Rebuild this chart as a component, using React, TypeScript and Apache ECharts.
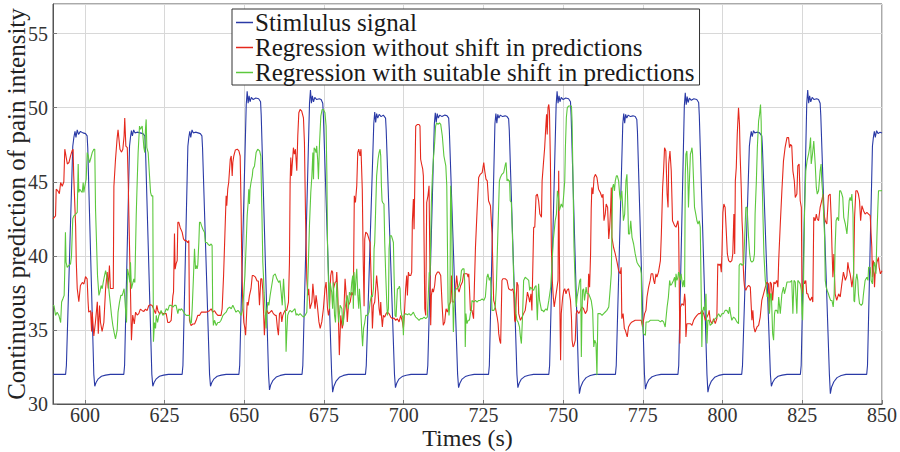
import React, { useEffect, useRef } from "react";
import * as echarts from "echarts";

const seriesNames = [
  "Stimlulus signal",
  "Regression without shift in predictions",
  "Regression with suitable shift in predictions",
];
const seriesColors = ["#2a3aa6", "#e5281c", "#5cc83d"];

// Stimulus signal (time s, value)
const stimulus: [number, number][] = [
  [590, 32.0], [593.95, 32.0], [594.2, 32.6], [596.2, 47.4], [596.55, 48.0], [596.9, 48.4], [597.2, 48.0], [597.6, 48.5], [598.0, 48.2], [598.6, 48.4], [599.4, 48.3], [600.2, 48.25], [600.7, 48.1], [600.9, 47.3], [602.8, 32.0], [603.1, 31.2], [603.5, 31.45], [604.2, 31.7], [605.2, 31.87], [606.5, 31.95], [608.0, 32.0],
  [612.2, 32.0], [612.45, 32.6], [614.0, 47.4], [614.3, 48.0], [614.6, 48.45], [614.9, 48.1], [615.3, 48.5], [615.7, 48.3], [616.4, 48.35], [617.3, 48.3], [618.2, 48.25], [618.8, 48.1], [619.0, 47.3], [621.0, 32.0], [621.3, 31.2], [621.7, 31.45], [622.4, 31.7], [623.4, 31.87], [624.7, 31.95], [626.2, 32.0],
  [630.5, 32.0], [630.75, 32.6], [632.3, 47.4], [632.6, 48.0], [632.9, 48.4], [633.2, 48.0], [633.6, 48.5], [634.0, 48.3], [634.7, 48.35], [635.5, 48.3], [636.2, 48.25], [636.7, 48.1], [636.9, 47.3], [639.1, 32.0], [639.4, 31.2], [639.8, 31.45], [640.5, 31.7], [641.5, 31.87], [642.8, 31.95], [644.3, 32.0],
  [648.3, 32.0], [648.55, 32.6], [650.6, 50.2], [650.9, 51.1], [651.2, 50.3], [651.5, 50.8], [651.8, 50.4], [652.2, 50.7], [652.8, 50.55], [653.6, 50.65], [654.5, 50.6], [655.1, 50.4], [655.3, 49.5], [657.6, 32.0], [657.9, 30.95], [658.3, 31.3], [659.0, 31.6], [660.0, 31.82], [661.3, 31.93], [662.8, 32.0],
  [668.1, 32.0], [668.35, 32.6], [670.45, 50.3], [670.75, 51.2], [671.05, 50.3], [671.35, 50.8], [671.7, 50.4], [672.1, 50.7], [672.7, 50.55], [673.5, 50.6], [674.1, 50.55], [674.6, 50.3], [674.8, 49.5], [677.4, 32.0], [677.7, 30.8], [678.1, 31.2], [678.8, 31.55], [679.8, 31.8], [681.1, 31.93], [682.6, 32.0],
  [688.0, 32.0], [688.25, 32.6], [690.6, 48.9], [690.9, 49.7], [691.2, 49.0], [691.5, 49.6], [691.85, 49.3], [692.3, 49.55], [692.9, 49.4], [693.6, 49.5], [694.3, 49.3], [694.5, 48.5], [697.1, 32.0], [697.4, 31.1], [697.8, 31.4], [698.5, 31.68], [699.5, 31.85], [700.8, 31.94], [702.3, 32.0],
  [707.3, 32.0], [707.55, 32.6], [709.6, 48.9], [709.9, 49.65], [710.2, 49.0], [710.5, 49.6], [710.85, 49.3], [711.3, 49.5], [712.0, 49.4], [712.9, 49.5], [713.6, 49.45], [714.1, 49.3], [714.3, 48.5], [716.9, 32.0], [717.2, 31.1], [717.6, 31.4], [718.3, 31.68], [719.3, 31.85], [720.6, 31.94], [722.1, 32.0],
  [726.6, 32.0], [726.85, 32.6], [728.6, 48.9], [728.9, 49.6], [729.2, 48.95], [729.5, 49.55], [729.85, 49.3], [730.3, 49.5], [731.0, 49.4], [731.8, 49.45], [732.4, 49.4], [732.9, 49.25], [733.1, 48.5], [735.5, 32.0], [735.8, 31.1], [736.2, 31.4], [736.9, 31.68], [737.9, 31.85], [739.2, 31.94], [740.7, 32.0],
  [745.5, 32.0], [745.75, 32.6], [747.8, 50.2], [748.1, 51.1], [748.4, 50.3], [748.7, 50.8], [749.0, 50.4], [749.4, 50.7], [750.0, 50.55], [750.8, 50.65], [751.7, 50.6], [752.3, 50.4], [752.5, 49.5], [754.8, 32.0], [755.1, 30.7], [755.5, 31.15], [756.2, 31.5], [757.2, 31.78], [758.5, 31.92], [760.0, 32.0],
  [766.4, 32.0], [766.65, 32.6], [768.7, 48.9], [769.0, 49.6], [769.3, 48.95], [769.6, 49.55], [769.95, 49.3], [770.4, 49.5], [771.1, 49.4], [771.9, 49.45], [772.6, 49.4], [773.1, 49.2], [773.3, 48.4], [775.5, 32.0], [775.8, 31.0], [776.2, 31.35], [776.9, 31.65], [777.9, 31.84], [779.2, 31.94], [780.7, 32.0],
  [786.0, 32.0], [786.25, 32.6], [788.0, 50.1], [788.3, 51.0], [788.6, 50.2], [788.9, 50.75], [789.2, 50.35], [789.6, 50.65], [790.2, 50.5], [791.0, 50.6], [791.9, 50.55], [792.5, 50.35], [792.7, 49.5], [795.1, 32.0], [795.4, 30.8], [795.8, 31.2], [796.5, 31.55], [797.5, 31.8], [798.8, 31.93], [800.3, 32.0],
  [806.0, 32.0], [806.25, 32.6], [808.4, 47.4], [808.7, 48.0], [809.0, 48.4], [809.3, 48.05], [809.7, 48.45], [810.1, 48.3], [810.8, 48.35], [811.6, 48.3], [812.3, 48.1], [812.5, 47.3], [815.0, 32.0], [815.3, 31.2], [815.7, 31.45], [816.4, 31.7], [817.4, 31.87], [818.7, 31.95], [820.2, 32.0],
  [824.4, 32.0], [824.65, 32.6], [826.4, 50.3], [826.7, 51.2], [827.0, 50.3], [827.3, 50.8], [827.65, 50.4], [828.1, 50.7], [828.7, 50.55], [829.5, 50.6], [830.1, 50.55], [830.6, 50.3], [830.8, 49.5], [833.5, 32.0], [833.8, 30.7], [834.2, 31.15], [834.9, 31.5], [835.9, 31.78], [837.2, 31.92], [838.7, 32.0],
  [845.2, 32.0], [845.45, 32.6], [847.0, 47.4], [847.3, 48.0], [847.6, 48.4], [847.9, 48.0], [848.3, 48.45], [848.8, 48.25], [849.4, 48.35], [850.0, 48.3],
];

// Regression without shift in predictions (time s, value)
const withoutShift: [number, number][] = [
  [590.0, 42.5], [590.8, 42.7], [591.0, 44.5], [591.5, 44.4], [592.0, 44.2], [592.4, 44.95], [592.9, 44.7], [593.4, 45.0], [593.7, 47.2], [594.5, 46.2], [595.0, 46.3], [595.5, 46.75], [596.0, 47.1], [596.3, 47.2], [596.5, 45.4], [597.1, 42.0], [597.3, 39.6], [597.6, 37.8], [598.1, 36.9], [598.6, 38.0], [599.2, 38.2], [599.7, 38.1], [600.2, 38.6], [600.7, 38.45],
  [601.0, 36.9], [601.2, 36.2], [601.8, 36.3], [602.1, 34.9], [602.3, 36.2], [602.8, 34.6], [603.3, 35.5], [603.9, 36.9], [604.2, 34.75], [604.6, 36.65], [604.9, 35.5], [605.4, 34.9], [605.95, 35.5], [606.5, 37.8], [607.0, 38.9], [607.3, 37.8], [607.7, 39.35], [608.0, 37.8], [608.9, 37.8],
  [609.1, 44.7], [609.6, 46.5], [610.1, 47.9], [610.4, 48.5], [611.0, 47.2], [611.5, 47.0], [611.9, 47.2], [612.3, 48.1], [612.5, 49.3], [612.85, 47.4], [613.3, 47.3], [613.6, 44.95], [613.8, 42.7], [614.1, 39.6], [614.3, 37.6], [614.6, 34.3], [615.0, 36.0], [615.5, 35.4], [615.9, 36.2], [616.4, 36.0], [616.9, 36.1], [617.4, 36.4], [618.0, 36.3], [618.5, 36.25], [619.0, 36.4], [619.5, 36.3], [620.05, 36.65], [620.6, 36.7], [621.1, 36.65], [621.6, 36.4],
  [622.16, 36.1], [622.57, 36.66], [622.9, 36.3], [623.4, 36.1], [623.9, 36.2], [624.45, 36.1], [625.0, 36.1], [625.5, 36.1], [626.0, 35.5], [626.5, 35.5], [627.07, 35.65], [627.38, 36.66], [627.6, 37.3], [627.8, 37.55], [628.1, 41.5], [628.3, 39.1], [628.6, 39.46], [628.95, 39.68], [629.16, 42.26], [629.47, 42.26], [629.9, 41.9], [630.5, 41.6], [630.93, 41.14], [631.35, 41.03], [631.77, 41.03], [632.3, 40.9], [632.6, 41.03],
  [632.8, 35.65], [633.3, 35.3], [633.86, 35.4], [634.4, 35.4], [634.9, 35.65], [635.4, 35.98], [635.95, 35.98], [636.5, 36.2], [637.0, 36.2], [638.0, 36.2], [639.1, 36.3], [639.6, 36.43], [640.1, 36.2], [640.65, 36.3], [641.2, 36.1], [641.7, 35.98], [642.2, 35.98], [642.7, 35.98], [643.05, 36.43],
  [643.5, 38.67], [643.9, 41.36], [644.3, 44.05], [644.5, 43.38], [644.8, 44.5], [645.1, 44.95], [645.6, 46.52], [645.9, 46.74], [646.2, 45.4], [646.4, 46.3], [646.7, 46.74], [647.2, 47.15], [647.8, 47.2], [648.3, 47.08], [648.7, 46.74], [649.0, 43.16], [649.2, 39.57], [649.5, 36.88], [649.85, 35.5], [650.2, 35.1], [650.4, 34.64], [650.6, 35.5], [650.9, 36.88],
  [651.2, 36.66], [651.6, 37.3], [652.1, 37.78], [652.5, 38.67], [652.9, 38.67], [653.5, 38.56], [654.0, 38.3], [654.4, 38.3], [654.76, 36.66], [655.17, 38.45], [655.5, 38.45], [655.8, 37.67], [656.0, 36.43], [656.3, 34.64], [656.6, 35.98], [657.05, 36.32], [657.6, 36.1], [658.1, 36.2], [658.6, 36.32], [659.1, 36.1], [659.7, 35.98], [660.0, 35.98], [660.4, 35.1], [660.7, 34.64], [661.03, 36.1], [661.45, 36.2], [661.76, 35.54], [662.07, 35.98], [662.5, 36.2], [662.8, 36.32], [663.3, 36.32], [663.85, 36.88],
  [664.16, 39.57], [664.37, 44.95], [664.58, 46.63], [664.79, 45.4], [665.0, 46.07], [665.4, 47.3], [665.7, 46.86], [666.04, 47.2], [666.46, 45.74], [666.77, 48.09], [667.1, 49.66], [667.5, 49.88], [668.0, 49.77], [668.55, 49.32], [668.86, 47.64], [669.2, 42.71], [669.6, 38.45], [669.9, 37.33],
  [670.2, 37.78], [670.6, 36.43], [671.2, 36.88], [671.5, 38.11], [671.9, 37.1], [672.2, 36.43], [672.5, 37.33], [672.9, 36.66], [673.4, 35.54], [673.8, 35.1], [674.3, 35.54], [674.8, 36.43], [675.3, 37.78], [675.65, 38.23], [676.1, 36.43], [676.4, 35.98], [676.7, 36.43], [677.1, 38.67], [677.4, 39.0], [677.7, 38.9], [677.95, 37.78], [678.5, 38.23], [678.8, 38.23], [679.0, 38.9], [679.3, 37.55], [679.6, 35.1], [679.8, 33.3], [680.25, 35.98], [680.7, 35.1], [681.1, 35.54], [681.6, 38.45], [681.9, 37.55], [682.3, 35.54], [682.66, 36.66], [683.2, 36.88], [683.7, 37.55], [684.2, 37.33],
  [684.5, 44.05], [684.85, 43.6], [685.27, 44.73], [685.58, 46.97], [685.9, 47.2], [686.3, 46.75], [686.6, 47.2], [687.0, 44.5], [687.3, 39.6], [687.57, 36.6], [687.77, 41.14], [688.09, 41.6], [688.6, 41.48], [689.1, 41.14], [689.45, 40.9], [689.86, 37.78], [690.18, 35.1], [690.5, 36.66], [690.9, 36.88], [691.2, 37.78], [691.5, 38.67], [691.95, 37.55], [692.27, 36.43], [692.58, 35.98], [692.79, 36.88], [693.0, 35.98], [693.3, 35.2], [693.6, 35.98],
  [694.04, 35.87], [694.46, 36.1], [694.88, 36.2], [695.4, 36.1], [695.92, 35.87], [696.45, 35.76], [696.97, 35.8], [697.49, 35.65], [698.01, 35.76], [698.54, 35.54], [699.06, 35.98], [699.58, 35.54], [699.9, 35.1], [700.3, 36.43], [700.6, 37.78], [700.94, 38.67], [701.15, 37.33], [701.46, 38.9], [701.78, 38.67], [702.2, 38.67], [702.5, 38.9],
  [702.7, 42.26], [703.03, 43.83], [703.24, 41.8], [703.45, 44.5], [703.76, 48.76], [704.3, 48.87], [704.8, 48.87], [705.1, 48.76], [705.3, 46.52], [705.6, 46.2], [705.96, 45.85], [706.16, 45.4], [706.6, 36.43], [706.9, 35.98], [707.2, 43.6], [707.6, 44.05], [707.94, 44.73], [708.25, 38.67], [708.46, 35.31], [708.67, 37.33], [708.99, 37.78], [709.3, 37.55], [709.7, 38.0], [710.0, 38.67], [710.55, 38.9], [711.07, 38.9], [711.6, 38.67],
  [712.1, 36.43], [712.4, 35.31], [712.85, 35.54], [713.27, 36.43], [713.7, 36.2], [714.2, 36.66], [714.7, 36.88], [714.95, 38.67], [715.26, 36.88], [715.78, 36.88], [716.1, 37.33], [716.6, 38.67], [717.0, 37.78], [717.35, 37.55], [717.87, 38.0], [718.4, 38.23], [718.8, 38.79], [719.3, 38.79], [719.9, 38.79], [720.2, 38.56], [720.4, 38.79], [720.6, 37.89], [720.9, 36.32], [721.4, 36.32], [721.9, 35.76],
  [722.15, 37.89], [722.5, 40.58], [723.0, 43.05], [723.5, 45.29], [724.0, 45.5], [724.6, 45.62], [725.1, 46.3], [725.4, 45.74], [725.8, 45.18], [726.2, 45.06], [726.6, 43.72], [727.2, 43.38], [727.7, 41.48], [728.0, 38.79], [728.2, 36.99], [728.5, 36.77], [728.9, 36.32], [729.3, 35.87], [729.6, 35.42], [729.8, 34.75], [730.1, 34.3], [730.4, 34.08],
  [730.8, 38.34], [731.1, 38.45], [731.9, 38.45], [732.4, 38.34], [732.9, 37.78], [733.4, 37.71], [733.75, 37.67], [734.2, 37.78], [734.5, 37.44], [734.8, 35.65], [735.0, 35.54], [735.5, 38.23], [735.85, 38.0], [736.05, 36.1], [736.6, 35.65], [737.1, 35.87], [737.6, 36.1], [738.1, 36.32], [738.5, 36.99], [738.8, 37.55], [739.2, 37.22], [739.5, 36.88], [739.9, 37.44], [740.2, 36.32],
  [740.75, 41.93], [741.1, 41.93], [741.5, 44.06], [741.9, 44.17], [742.3, 43.72], [742.7, 42.82], [743.2, 42.6], [743.4, 45.06], [743.8, 46.2], [744.2, 47.3], [744.6, 48.88], [744.8, 49.55], [745.0, 48.2], [745.25, 50.0], [745.5, 50.22], [745.7, 49.77], [746.0, 46.41], [746.3, 40.58], [746.6, 38.34], [746.9, 37.22], [747.2, 36.55], [747.5, 36.99], [748.1, 37.89], [748.4, 38.34], [748.6, 45.74], [748.8, 40.58], [749.0, 36.1], [749.2, 32.96], [749.4, 36.1],
  [749.85, 37.22], [750.2, 37.67], [750.5, 37.78], [750.9, 37.44], [751.2, 37.67], [751.7, 37.78], [752.3, 36.99], [752.6, 35.87], [752.8, 34.3], [753.1, 33.85], [753.4, 33.97], [753.8, 34.3], [754.1, 36.1], [754.4, 36.32], [754.9, 36.1], [755.4, 36.32], [755.9, 36.55], [756.4, 36.43], [756.95, 36.1], [757.5, 36.32], [757.8, 37.22], [758.0, 38.79], [758.3, 37.89], [758.6, 40.13],
  [758.8, 43.16], [759.0, 44.62], [759.35, 44.17], [759.7, 45.29], [760.1, 45.5], [760.6, 45.29], [761.1, 44.5], [761.65, 44.28], [762.2, 43.94], [762.5, 44.17], [762.8, 42.37], [763.2, 42.82], [763.5, 43.5], [763.95, 43.27], [764.3, 41.14], [764.6, 41.93], [764.9, 43.27], [765.1, 44.62], [765.3, 41.25], [765.8, 40.58], [766.35, 40.13], [766.9, 39.57], [767.4, 39.0], [767.9, 38.79], [768.2, 39.23],
  [768.4, 35.76], [768.8, 36.1], [769.2, 35.09], [769.5, 34.98], [769.8, 34.75], [770.1, 34.53], [770.5, 35.2], [771.05, 35.42], [771.6, 35.54], [772.6, 35.65], [773.7, 35.65], [774.5, 35.65], [774.9, 35.2], [775.2, 35.65], [775.55, 36.1], [775.97, 36.32], [776.3, 37.22], [776.8, 37.89], [777.3, 38.34], [777.6, 38.79], [778.1, 38.79], [778.4, 38.34], [778.7, 38.11], [779.1, 38.79], [779.4, 38.56], [779.9, 38.9], [780.5, 39.68],
  [780.8, 41.48], [781.2, 44.62], [781.5, 45.74], [781.8, 47.3], [782.2, 47.08], [782.6, 44.17], [782.9, 43.27], [783.1, 46.2], [783.5, 47.08], [783.9, 45.74], [784.3, 42.37], [784.95, 42.04], [785.4, 41.93], [785.7, 42.15], [786.0, 42.37], [786.2, 41.93], [786.4, 38.34], [786.6, 34.08], [786.8, 36.55], [787.25, 36.77], [787.8, 36.66], [788.1, 37.44], [788.3, 36.99], [788.5, 34.53], [788.8, 35.42],
  [789.3, 35.42], [789.9, 35.42], [790.4, 35.31], [790.9, 35.65], [791.4, 35.83], [791.95, 35.98], [792.5, 36.1], [793.0, 36.1], [793.5, 36.32], [794.05, 36.1], [794.6, 35.65], [795.1, 35.87], [795.6, 36.1], [795.8, 36.32], [796.1, 35.65], [796.7, 35.42], [797.2, 35.76], [797.7, 35.42], [798.2, 35.76],
  [798.5, 39.46], [798.95, 39.35], [799.3, 39.46], [799.6, 38.9], [799.8, 40.13], [800.1, 42.93], [800.4, 43.5], [800.8, 43.27], [801.15, 41.7], [801.5, 40.13], [801.9, 39.68], [802.4, 39.57], [802.9, 39.68], [803.2, 40.13], [803.55, 42.82], [803.8, 40.13], [804.0, 45.06], [804.3, 45.96], [804.6, 48.2], [805.0, 50.0], [805.3, 48.88], [805.5, 46.86], [805.85, 44.62], [806.1, 42.37], [806.3, 41.48], [806.5, 39.23], [806.7, 38.34], [806.9, 37.89],
  [807.3, 37.67], [807.7, 37.89], [808.2, 38.0], [808.7, 37.89], [809.0, 36.55], [809.2, 35.65], [809.5, 36.32], [809.8, 35.2], [810.2, 34.86], [810.8, 35.2], [811.3, 35.31], [811.8, 35.87], [812.3, 36.99], [812.85, 37.44], [813.4, 37.89], [813.9, 38.23], [814.4, 38.11], [814.6, 36.32], [814.95, 38.23], [815.3, 38.11], [815.7, 36.99], [816.1, 38.23], [816.5, 38.11], [817.0, 38.34], [817.35, 37.89],
  [817.6, 39.68], [818.1, 42.15], [818.6, 44.39], [819.1, 46.41], [819.6, 47.3], [820.2, 47.98], [820.7, 47.98], [821.0, 47.3], [821.3, 47.53], [821.7, 47.42], [822.05, 45.74], [822.5, 45.06], [822.8, 43.94], [823.3, 44.17], [823.6, 46.07], [824.0, 46.2], [824.35, 43.72], [824.7, 43.27], [824.9, 37.44], [825.2, 37.89], [825.5, 38.34], [825.7, 38.11], [826.1, 38.34], [826.4, 37.44], [826.75, 37.44], [826.96, 37.22], [827.5, 36.99], [828.0, 37.22], [828.3, 36.88],
  [828.6, 42.6], [829.05, 42.37], [829.4, 42.82], [829.7, 42.49], [830.1, 42.37], [830.6, 43.27], [831.1, 43.72], [831.5, 44.17], [831.8, 42.82], [832.2, 42.37], [832.7, 42.15], [833.2, 44.06], [833.75, 44.17], [834.1, 42.37], [834.3, 40.58], [834.6, 38.56], [834.9, 40.13], [835.3, 37.44], [835.8, 36.99], [836.4, 37.44], [836.9, 37.22], [837.4, 38.11], [837.9, 38.9], [838.5, 38.34], [839.0, 38.67], [839.3, 39.57], [839.5, 39.23], [840.0, 38.79], [840.3, 38.34], [840.55, 37.89], [841.1, 38.79],
  [841.4, 42.6], [841.8, 44.39], [842.2, 44.39], [842.6, 44.17], [842.95, 43.72], [843.3, 42.37], [843.7, 43.38], [844.2, 43.05], [844.7, 42.82], [845.25, 42.93], [845.8, 42.82], [846.3, 42.71], [846.8, 40.58], [847.0, 38.56], [847.3, 39.68], [847.65, 37.89], [847.85, 38.79], [848.4, 39.57], [848.9, 39.9], [849.1, 39.23], [849.5, 38.79], [850.0, 39.0],
];

// Regression with suitable shift in predictions (time s, value)
const withShift: [number, number][] = [
  [590.0, 36.65], [590.3, 36.65], [590.8, 35.98], [591.3, 36.2], [591.85, 35.98], [592.4, 35.5], [592.7, 36.88], [593.1, 37.1], [593.5, 37.33], [593.7, 39.12], [593.9, 41.6], [594.1, 39.57], [594.45, 39.23], [594.98, 39.35], [595.5, 39.46], [595.8, 40.0], [596.2, 42.5], [596.55, 42.7], [597.07, 42.8], [597.6, 42.93],
  [597.9, 46.2], [598.1, 44.28], [598.4, 44.5], [598.74, 44.39], [599.16, 44.28], [599.47, 44.95], [599.68, 44.28], [600.0, 44.73], [600.4, 45.17], [600.73, 46.97], [601.04, 46.74], [601.46, 46.3], [601.77, 46.52], [602.3, 46.97], [602.8, 47.2], [603.1, 47.2], [603.34, 43.16], [603.65, 40.9], [603.96, 38.67],
  [604.4, 37.33], [604.7, 37.55], [605.1, 38.0], [605.43, 37.78], [605.74, 38.2], [606.16, 38.67], [606.5, 39.0], [607.0, 38.45], [607.3, 38.2], [607.7, 37.33], [608.04, 36.65], [608.35, 35.98], [608.77, 35.3], [609.2, 34.8], [609.6, 34.4], [610.13, 35.0], [610.4, 36.2], [610.86, 36.88], [611.28, 37.33], [611.7, 37.33], [612.0, 37.55], [612.3, 37.78], [612.74, 36.43], [613.06, 35.5],
  [613.37, 39.12], [613.58, 39.12], [613.79, 38.67], [614.1, 38.2], [614.3, 39.57], [614.6, 37.78], [614.8, 37.78], [615.36, 38.45], [615.67, 38.2], [616.1, 42.7], [616.4, 44.95], [616.7, 46.97], [617.13, 48.76], [617.45, 48.54], [617.97, 48.76], [618.5, 47.3], [618.8, 46.97], [619.0, 48.54], [619.22, 49.21], [619.43, 47.3], [619.85, 46.97], [620.27, 45.4], [620.6, 44.28], [620.9, 44.05], [621.3, 44.05],
  [621.5, 34.2], [621.84, 35.5], [622.16, 35.1], [622.37, 35.98], [622.8, 35.5], [623.2, 35.98], [623.6, 36.1], [623.9, 36.32], [624.45, 35.98], [624.98, 36.1], [625.5, 36.43], [626.0, 36.32], [626.5, 36.66], [627.07, 36.66], [627.6, 36.54], [628.1, 36.66], [628.6, 36.66], [629.16, 36.1], [629.47, 36.43], [629.9, 36.32], [630.2, 36.43], [630.7, 36.32], [631.25, 36.1], [631.77, 35.98], [632.3, 35.98], [632.8, 35.98], [633.1, 35.42], [633.4, 35.5],
  [633.65, 36.43], [633.86, 37.55], [634.07, 38.67], [634.38, 40.47], [634.7, 39.12], [634.9, 39.35], [635.2, 39.12], [635.4, 39.35], [635.74, 40.9], [635.95, 42.26], [636.26, 42.26], [636.58, 42.04], [637.0, 41.8], [637.5, 41.6], [637.8, 40.9], [638.25, 40.9], [638.56, 40.8], [639.1, 40.69], [639.6, 40.8], [639.9, 40.69],
  [640.1, 36.2], [640.3, 35.3], [640.65, 35.65], [641.2, 35.3], [641.7, 35.5], [642.2, 35.5], [642.7, 35.65], [643.3, 35.98], [643.8, 36.1], [644.3, 36.2], [644.8, 36.43], [645.4, 36.54], [645.9, 36.43], [646.4, 36.66], [646.9, 36.43], [647.4, 36.2], [648.0, 36.32], [648.5, 36.2], [649.0, 35.98], [649.5, 36.43],
  [649.85, 37.55], [650.2, 38.67], [650.6, 40.9], [650.9, 42.7], [651.2, 43.6], [651.4, 44.5], [651.6, 43.5], [651.8, 44.5], [652.1, 44.95], [652.5, 45.4], [652.7, 45.85], [653.2, 46.07], [653.7, 46.97], [654.2, 47.2], [654.8, 47.08], [655.17, 46.74], [655.5, 43.16], [655.8, 39.57], [656.0, 38.67], [656.2, 37.55], [656.5, 36.43], [656.85, 35.1],
  [657.05, 36.2], [657.4, 36.88], [657.7, 36.66], [658.1, 37.33], [658.6, 38.0], [659.1, 38.67], [659.7, 38.78], [660.2, 38.45], [660.5, 38.33], [660.8, 38.2], [661.2, 38.33], [661.55, 37.55], [661.9, 36.66], [662.3, 38.45], [662.6, 37.33], [662.9, 36.43], [663.1, 33.52], [663.3, 34.64], [663.6, 35.98], [663.95, 36.2], [664.37, 36.32], [664.9, 36.2], [665.4, 36.32], [665.9, 36.43], [666.25, 35.98], [666.46, 36.1], [666.98, 35.98], [667.5, 36.1], [668.0, 35.98], [668.55, 35.87], [669.07, 35.98], [669.6, 36.2],
  [669.8, 37.55], [670.1, 39.57], [670.43, 42.04], [670.85, 44.28], [671.2, 45.4], [671.5, 46.97], [671.7, 45.17], [671.9, 47.3], [672.2, 47.2], [672.5, 46.97], [672.7, 47.42], [673.0, 46.52], [673.25, 45.17], [673.6, 47.64], [674.0, 49.43], [674.4, 49.88], [674.8, 49.88], [675.3, 49.66], [675.65, 48.76], [675.9, 45.4], [676.1, 40.9], [676.4, 38.2],
  [676.7, 36.43], [676.9, 38.2], [677.4, 37.55], [677.7, 36.43], [677.95, 38.2], [678.3, 35.98], [678.6, 35.5], [679.0, 38.2], [679.3, 36.88], [679.6, 35.5], [680.05, 36.66], [680.6, 36.43], [680.9, 35.3], [681.3, 35.98], [681.6, 36.43], [681.9, 36.88], [682.3, 37.33], [682.66, 36.43], [682.97, 37.55], [683.4, 37.33], [683.7, 38.2], [684.0, 38.67], [684.2, 36.43], [684.4, 38.9], [684.75, 37.33], [685.06, 38.67], [685.27, 39.12], [685.6, 37.33], [685.9, 36.43], [686.1, 37.78], [686.5, 36.43], [686.9, 34.64], [687.1, 33.9], [687.4, 35.1],
  [687.77, 35.5], [688.09, 35.98], [688.6, 35.98], [689.1, 36.2], [689.45, 36.88], [689.86, 37.33], [690.18, 37.22], [690.5, 37.78], [690.7, 40.47], [690.9, 40.9], [691.2, 43.16], [691.5, 45.4], [691.95, 46.52], [692.27, 46.97], [692.58, 47.2], [692.79, 46.74], [693.0, 44.73], [693.2, 43.72], [693.4, 43.6], [693.8, 43.5], [694.04, 40.9], [694.36, 38.67], [694.67, 36.88], [694.88, 35.98], [695.2, 36.43],
  [695.4, 40.47], [695.72, 41.36], [696.13, 41.36], [696.45, 41.14], [696.76, 40.9], [696.97, 38.67], [697.28, 35.98], [697.6, 35.87], [698.01, 37.78], [698.33, 37.78], [698.64, 37.96], [698.85, 37.78], [699.06, 36.43], [699.37, 35.98], [699.69, 35.87], [699.9, 34.64], [700.1, 35.98], [700.6, 36.1], [701.15, 36.03], [701.67, 36.1], [702.2, 35.98], [702.7, 36.1], [703.03, 36.2], [703.45, 35.98], [703.76, 35.87], [704.3, 35.76], [704.8, 35.65], [705.3, 35.76], [705.85, 35.76], [706.4, 35.87], [706.9, 35.76], [707.4, 35.87],
  [707.7, 37.33], [708.0, 38.9], [708.25, 38.67], [708.67, 43.6], [708.99, 45.4], [709.3, 46.52], [709.7, 47.64], [710.0, 48.76], [710.3, 48.98], [710.76, 48.87], [711.2, 48.98], [711.6, 48.87], [712.1, 48.09], [712.6, 46.74], [713.2, 46.07], [713.5, 44.73], [713.7, 40.9], [713.9, 36.88], [714.2, 35.98], [714.5, 36.88], [714.7, 44.73], [714.95, 43.6], [715.26, 38.67], [715.57, 34.86], [715.78, 36.43],
  [716.1, 37.55], [716.4, 37.78], [716.8, 37.78], [717.35, 38.0], [717.8, 38.34], [718.1, 39.0], [718.5, 39.12], [718.9, 39.12], [719.1, 38.34], [719.3, 33.85], [719.5, 36.1], [719.85, 35.42], [720.2, 35.65], [720.6, 35.65], [720.9, 36.1], [721.2, 36.32], [721.4, 36.99], [721.9, 36.88], [722.5, 36.99], [723.0, 36.88], [723.5, 36.99], [724.0, 36.99], [724.6, 37.1], [725.1, 36.99], [725.6, 37.22],
  [726.1, 38.56], [726.4, 38.79], [726.85, 38.34], [727.2, 38.56], [727.5, 37.44], [727.7, 36.32], [728.0, 36.32], [728.3, 36.32], [728.7, 36.55], [729.05, 37.89], [729.4, 40.58], [729.7, 42.82], [730.0, 45.06], [730.3, 45.29], [730.8, 45.5], [731.35, 45.62], [731.9, 46.2], [732.1, 46.3], [732.4, 45.06], [732.7, 45.18], [732.9, 45.06], [733.2, 45.06], [733.4, 43.72], [733.75, 43.6], [734.2, 40.58], [734.5, 38.34], [734.8, 37.44],
  [735.2, 36.1], [735.5, 35.65], [735.85, 35.54], [736.3, 35.2], [736.6, 34.53], [736.9, 34.08], [737.3, 36.1], [737.6, 38.34], [738.1, 38.56], [738.7, 38.45], [739.2, 38.34], [739.5, 37.67], [739.8, 37.89], [740.2, 37.78], [740.75, 37.67], [741.1, 37.89], [741.5, 38.0], [741.9, 35.65], [742.3, 38.11], [742.6, 36.99], [743.2, 36.32], [743.6, 36.32], [743.9, 36.21], [744.2, 36.32], [744.6, 36.43], [745.0, 36.32],
  [745.5, 36.99], [745.8, 37.44], [746.1, 37.89], [746.5, 39.46], [746.9, 41.03], [747.2, 41.7], [747.5, 42.37], [747.9, 42.82], [748.2, 44.39], [748.5, 44.06], [748.8, 43.05], [749.1, 43.27], [749.4, 43.5], [749.85, 43.27], [750.2, 44.17], [750.5, 45.06], [750.7, 47.3], [751.0, 49.32], [751.3, 50.0], [751.7, 50.11], [752.1, 50.11], [752.6, 50.11], [752.8, 49.1], [753.1, 45.06], [753.4, 40.58], [753.8, 37.89],
  [754.1, 36.55], [754.4, 37.22], [754.9, 37.89], [755.2, 38.34], [755.5, 38.45], [755.7, 33.18], [755.9, 36.1], [756.1, 37.67], [756.4, 37.78], [756.7, 36.99], [757.2, 37.89], [757.5, 37.44], [758.0, 37.44], [758.4, 37.22], [758.8, 36.99], [759.25, 36.32], [759.6, 33.85], [759.9, 34.3], [760.3, 34.08], [760.6, 31.95], [760.9, 36.1], [761.1, 36.1], [761.65, 36.1], [762.2, 35.98], [762.7, 36.1], [763.2, 36.21], [763.7, 36.32], [764.3, 36.55], [764.8, 37.89], [765.1, 38.79],
  [765.5, 44.62], [765.8, 44.84], [766.1, 44.39], [766.35, 45.06], [766.7, 45.4], [767.0, 45.4], [767.4, 45.06], [767.7, 44.17], [768.0, 43.72], [768.4, 44.39], [768.9, 42.37], [769.3, 42.82], [769.7, 45.06], [770.0, 45.5], [770.3, 43.27], [770.5, 41.48], [770.85, 41.48], [771.2, 42.37], [771.6, 41.25], [772.1, 40.8], [772.6, 40.13], [773.15, 39.57], [773.7, 39.35], [774.2, 39.23], [774.5, 38.79],
  [774.7, 35.65], [775.2, 34.75], [775.8, 34.64], [776.0, 35.54], [776.3, 35.54], [776.8, 35.54], [777.3, 35.65], [777.85, 35.65], [778.9, 35.65], [779.9, 35.65], [780.5, 35.54], [781.0, 35.65], [781.5, 35.54], [782.0, 35.2], [782.6, 36.55], [783.0, 37.2], [783.4, 38.34], [783.7, 38.0], [784.1, 38.11], [784.6, 38.34], [784.95, 38.56], [785.2, 37.89], [785.4, 38.79], [785.7, 38.34], [786.0, 38.56], [786.2, 38.9], [786.4, 38.79], [786.7, 38.34], [787.0, 38.79], [787.25, 38.34], [787.5, 37.89], [787.8, 38.34], [788.1, 37.89],
  [788.3, 45.5], [788.5, 46.86], [788.8, 47.08], [789.1, 45.5], [789.3, 43.27], [789.5, 43.27], [789.9, 46.86], [790.2, 47.08], [790.4, 47.3], [790.6, 46.86], [790.9, 45.06], [791.2, 43.27], [791.6, 42.82], [791.95, 42.37], [792.3, 42.15], [792.7, 42.37], [793.0, 41.93], [793.3, 37.44], [793.5, 33.85], [793.7, 36.1], [794.05, 36.55], [794.4, 36.32], [794.8, 37.44], [795.1, 34.08], [795.4, 35.65],
  [795.8, 35.65], [796.1, 35.31], [796.7, 35.42], [797.2, 35.65], [797.7, 35.76], [798.2, 35.87], [798.75, 36.1], [799.3, 35.87], [799.8, 36.1], [800.3, 36.1], [800.8, 36.32], [801.35, 36.32], [801.9, 36.1], [802.2, 36.55], [802.5, 36.1], [802.9, 35.65], [803.45, 35.87], [803.97, 35.76], [804.5, 35.54], [805.0, 35.42],
  [805.2, 39.35], [805.5, 39.46], [805.85, 39.46], [806.1, 39.35], [806.3, 39.35], [806.6, 39.46], [806.9, 41.03], [807.3, 43.27], [807.7, 43.27], [808.15, 41.25], [808.5, 40.13], [808.8, 39.68], [809.2, 39.57], [809.7, 39.68], [810.0, 40.13], [810.2, 42.82], [810.6, 45.06], [810.9, 47.3], [811.3, 49.1], [811.6, 49.55], [811.9, 50.22], [812.1, 49.1], [812.3, 46.2], [812.65, 42.82], [812.96, 40.13],
  [813.4, 38.34], [813.7, 37.89], [814.0, 37.22], [814.4, 37.44], [814.7, 36.1], [815.05, 37.44], [815.3, 37.44], [815.7, 34.75], [816.0, 34.3], [816.3, 36.1], [816.5, 36.32], [817.0, 36.32], [817.35, 36.1], [817.6, 37.22], [818.1, 36.1], [818.6, 37.44], [819.1, 37.89], [819.4, 37.44], [819.9, 37.89], [820.2, 38.23], [820.7, 38.23], [821.2, 38.23], [821.7, 38.34], [822.05, 36.1], [822.4, 38.34], [822.8, 38.23], [823.3, 36.1], [823.6, 38.34], [824.0, 38.23], [824.35, 38.11], [824.7, 37.67], [824.9, 36.1], [825.1, 35.65],
  [825.4, 38.34], [825.7, 42.82], [826.1, 45.74], [826.5, 46.41], [826.96, 46.86], [827.3, 47.3], [827.6, 47.98], [827.8, 46.2], [828.2, 46.86], [828.6, 47.75], [829.05, 46.2], [829.4, 44.62], [829.7, 44.17], [830.1, 44.39], [830.6, 45.74], [830.9, 46.2], [831.1, 45.06], [831.35, 44.39], [831.7, 42.82], [832.0, 41.25], [832.2, 38.34], [832.5, 37.89], [832.8, 37.67], [833.2, 37.44], [833.5, 37.22], [833.9, 36.99], [834.3, 36.99], [834.7, 36.55], [835.0, 37.44],
  [835.3, 40.58], [835.6, 42.37], [835.95, 42.6], [836.4, 42.37], [836.7, 44.39], [837.0, 44.39], [837.4, 44.17], [837.7, 43.94], [838.0, 42.6], [838.5, 42.15], [839.0, 41.48], [839.3, 42.37], [839.7, 43.72], [840.0, 43.94], [840.3, 43.72], [840.55, 44.17], [840.9, 42.82], [841.2, 36.99], [841.4, 36.88], [841.8, 38.34], [842.1, 38.79], [842.4, 38.34], [842.6, 37.44], [842.95, 36.77], [843.5, 36.66], [843.9, 36.77], [844.2, 37.44], [844.7, 38.34], [845.25, 38.56], [845.6, 38.34],
  [845.8, 39.23], [846.3, 39.23], [846.6, 38.34], [847.0, 38.11], [847.3, 39.23], [847.65, 39.57], [847.85, 39.23], [848.1, 38.79], [848.4, 41.25], [848.7, 43.27], [848.9, 44.39], [849.2, 44.39], [849.5, 44.39], [850.0, 44.4],
];

const xMin = 590;
const xMax = 850;
const xStep = 25;
const yMin = 30;
const yMax = 57;
const yStep = 5;

const FONT = "'Liberation Serif', 'DejaVu Serif', serif";

export default function App() {
  const ref = useRef<HTMLDivElement>(null);

  useEffect(() => {
    document.body.style.margin = "0";
    if (!ref.current) return;
    const chart = echarts.init(ref.current, undefined, { renderer: "svg" });
    const datasets = [stimulus, withoutShift, withShift];
    chart.setOption({
      animation: false,
      backgroundColor: "#ffffff",
      grid: {
        left: 53,
        right: 18,
        top: 4,
        bottom: 48,
        containLabel: false,
        outerBoundsMode: "none",
        show: true,
        borderColor: "#555555",
        borderWidth: 1,
      },
      legend: {
        orient: "vertical",
        left: 232,
        top: 9,
        backgroundColor: "#ffffff",
        borderColor: "#333333",
        borderWidth: 1,
        borderRadius: 0,
        padding: [1, 5, 0, 4],
        itemGap: 0,
        itemWidth: 17,
        itemHeight: 1.5,
        icon: "rect",
        selectedMode: false,
        textStyle: {
          fontFamily: FONT,
          fontSize: 25,
          lineHeight: 25,
          color: "#1a1a1a",
          padding: [0, 0, 0, -3],
        },
        data: seriesNames,
      },
      xAxis: {
        type: "value",
        min: xMin,
        max: xMax,
        minInterval: xStep,
        maxInterval: xStep,
        name: "Times (s)",
        nameLocation: "middle",
        nameGap: 23,
        nameMoveOverlap: false,
        nameTextStyle: { fontFamily: FONT, fontSize: 24, lineHeight: 22, color: "#222222" },
        axisLine: { show: true, lineStyle: { color: "#555555", width: 1 } },
        axisTick: { show: true, inside: true, length: 4, lineStyle: { color: "#777777" } },
        axisLabel: {
          showMinLabel: false,
          fontFamily: FONT,
          fontSize: 20,
          lineHeight: 18,
          color: "#333333",
          margin: 2,
        },
        splitLine: { show: true, lineStyle: { color: "#d8d8d8", width: 1 } },
      },
      yAxis: {
        type: "value",
        min: yMin,
        max: yMax,
        interval: yStep,
        name: "Continuous prediction of pain intensity",
        nameLocation: "middle",
        nameGap: 24,
        nameMoveOverlap: false,
        nameTextStyle: { fontFamily: FONT, fontSize: 25, color: "#222222" },
        axisLine: { show: true, lineStyle: { color: "#555555", width: 1 } },
        axisTick: { show: true, inside: true, length: 4, lineStyle: { color: "#777777" } },
        axisLabel: {
          showMaxLabel: false,
          fontFamily: FONT,
          fontSize: 20,
          color: "#333333",
          margin: 5,
        },
        splitLine: { show: true, lineStyle: { color: "#d8d8d8", width: 1 } },
      },
      series: seriesNames.map((name, i) => ({
        name,
        type: "line",
        data: datasets[i],
        showSymbol: false,
        symbol: "none",
        lineStyle: { color: seriesColors[i], width: 1.1 },
        itemStyle: { color: seriesColors[i] },
        emphasis: { disabled: true },
        z: 2 + i,
      })),
    });
    return () => {
      chart.dispose();
    };
  }, []);

  return <div ref={ref} style={{ width: 900, height: 452 }} />;
}
